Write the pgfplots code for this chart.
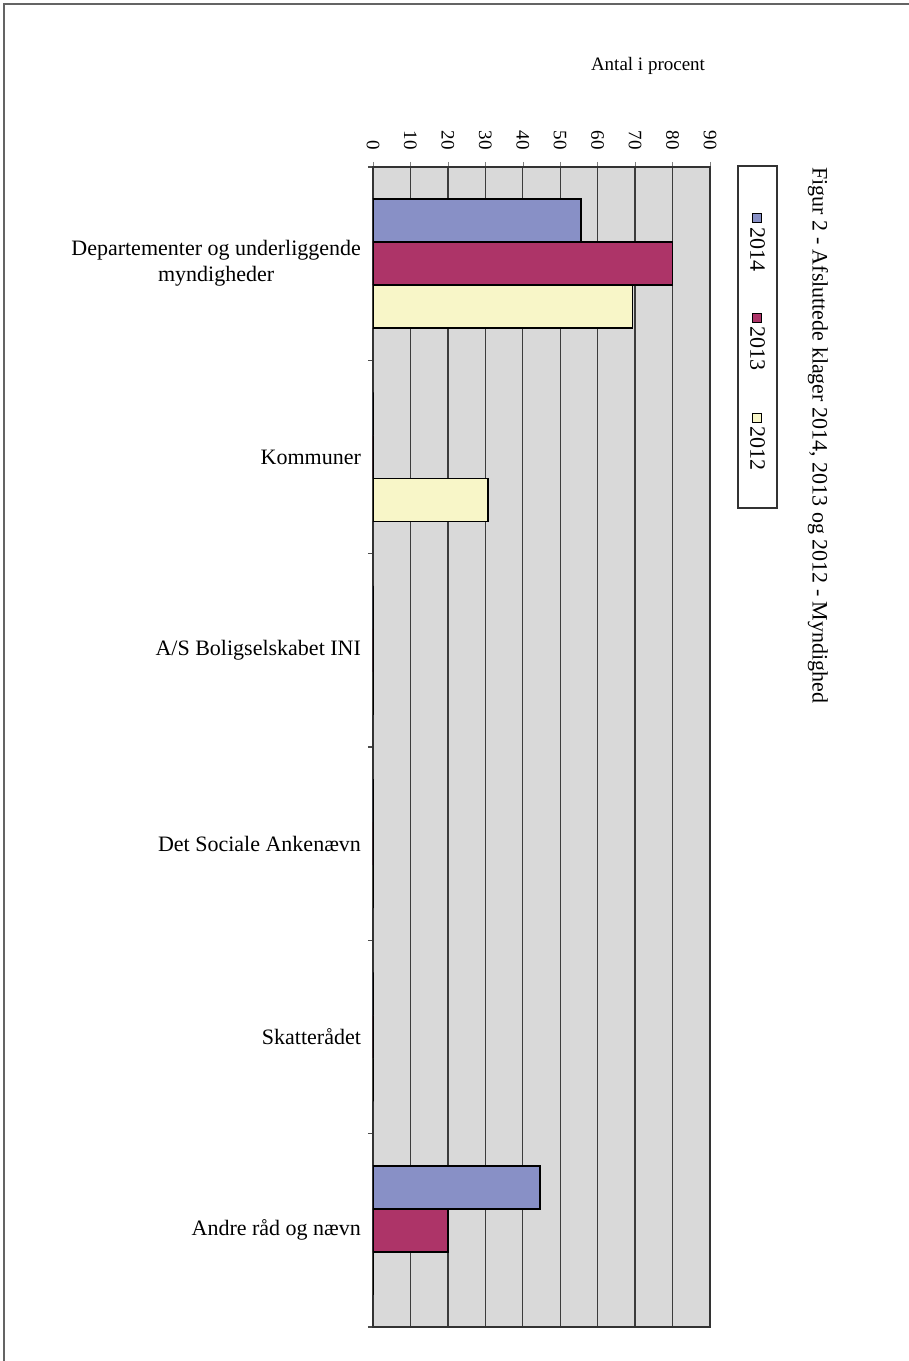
\documentclass[border=0pt]{standalone}
\usepackage{pgfplots}
\pgfplotsset{compat=1.18}
\usepackage{fontspec}
\setmainfont{Liberation Serif}

\definecolor{c2014}{RGB}{136,144,198}
\definecolor{c2013}{RGB}{173,52,104}
\definecolor{c2012}{RGB}{248,246,200}
\definecolor{plotbg}{RGB}{217,217,217}
\definecolor{gridc}{RGB}{60,60,60}
\definecolor{framec}{RGB}{100,100,100}

\newcommand\legsq[1]{{\setlength\fboxsep{0pt}\setlength\fboxrule{0.5pt}%
  \raisebox{1.5pt}{\fcolorbox{black}{#1}{\rule{0pt}{4pt}\rule{4pt}{0pt}}}}}

\begin{document}
\begin{tikzpicture}
\begin{axis}[
  name=ax,
  xbar,
  scale only axis,
  width=168.5pt, height=580pt,
  xmin=0, xmax=90,
  ymin=-0.5, ymax=5.5,
  bar width=21.5pt,
  axis background/.style={fill=plotbg},
  axis line style={black!80, line width=0.8pt},
  xtick={0,10,...,90},
  xtick pos=upper, xticklabel pos=upper,
  tick align=outside,
  major tick length=2.5pt, minor tick length=2.5pt,
  /pgf/number format/assume math mode=true,
  x tick label style={rotate=-90, anchor=east, inner xsep=6pt, inner ysep=1pt,
    font=\fontsize{9.5}{11}\selectfont},
  xmajorgrids,
  major x grid style={gridc, line width=0.7pt},
  ytick={0,...,5},
  ytick pos=left,
  yticklabels={Andre råd og nævn, Skatterådet, Det Sociale Ankenævn,
    A/S Boligselskabet INI, Kommuner, {Departementer og underliggende\\myndigheder}},
  y tick label style={align=center, font=\fontsize{11}{13}\selectfont},
  major y tick style={draw=none},
  minor ytick={-0.5,0.5,...,5.5},
  minor y tick style={black!70, line width=0.8pt},
]
\addplot[fill=c2014, draw=black, line width=0.7pt, bar shift=21.5pt]
  coordinates {(55.6,5) (0,4) (0,3) (0,2) (0,1) (44.6,0)};
\addplot[fill=c2013, draw=black, line width=0.7pt, bar shift=0pt]
  coordinates {(80.0,5) (0,4) (0,3) (0,2) (0,1) (20.0,0)};
\addplot[fill=c2012, draw=black, line width=0.7pt, bar shift=-21.5pt]
  coordinates {(69.3,5) (30.7,4) (0,3) (0,2) (0,1) (0,0)};
\end{axis}
% axis title, legend and chart title
\node[font=\fontsize{9.5}{11}\selectfont] at ([xshift=137.5pt,yshift=50.5pt]ax.north west) {Antal i procent};
\node[rotate=-90, draw=black!80, line width=0.6pt, minimum width=171pt, minimum height=19.5pt,
  inner sep=0pt, font=\fontsize{11}{13}\selectfont]
  at ([xshift=23.75pt,yshift=-85pt]ax.north east)
  {\hspace{5pt}\legsq{c2014}\,2014\hspace{21pt}\legsq{c2013}\,2013\hspace{21pt}\legsq{c2012}\,2012};
\node[rotate=-90, anchor=west, inner sep=0pt, font=\fontsize{11}{13}\selectfont]
  at ([xshift=54pt]ax.north east) {Figur 2 - Afsluttede klager 2014, 2013 og 2012 - Myndighed};
\draw[framec, line width=1pt] ([xshift=-184.5pt,yshift=-17pt]ax.south west)
  -- ([xshift=-184.5pt,yshift=81.5pt]ax.north west)
  -- ([xshift=99.5pt,yshift=81.5pt]ax.north east);
\pgfresetboundingbox
\useasboundingbox ([xshift=-186.5pt,yshift=-17pt]ax.south west)
  rectangle ([xshift=99.5pt,yshift=83.5pt]ax.north east);
\end{tikzpicture}
\end{document}
